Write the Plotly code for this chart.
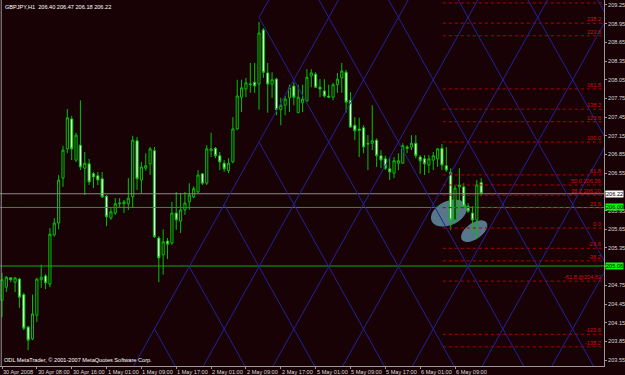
import plotly.graph_objects as go
import numpy as np

# ---------------- data ----------------
opens = [204.51,204.72,204.87,204.80,204.85,204.60,204.08,203.89,204.27,204.84,
         204.90,204.77,205.56,205.75,206.47,206.94,207.42,206.76,207.00,206.63,
         206.70,206.54,206.51,206.46,206.18,205.83,205.91,206.06,206.06,206.06,
         206.17,207.07,206.44,206.63,206.70,206.91,205.51,205.24,205.46,205.43,
         205.91,205.78,205.96,206.09,206.17,206.25,206.54,206.39,206.91,206.95,
         206.83,206.71,206.59,206.73,207.26,207.77,207.90,207.97,208.01,207.98,
         208.85,208.16,207.98,208.06,207.57,207.64,207.76,207.95,207.52,207.68,
         207.71,208.11,208.14,207.93,207.87,207.79,207.77,207.97,208.08,208.17,
         207.72,207.32,207.26,207.28,207.03,207.03,207.08,206.83,206.78,206.62,
         206.55,206.71,206.71,206.97,206.97,207.03,206.81,206.78,206.68,206.76,
         206.78,206.95,206.67,206.57,205.80,206.33,206.33,206.02,205.91,205.80,
         206.40]
highs = [204.95,204.90,204.88,204.88,204.87,204.63,204.10,204.60,204.87,205.08,
         204.93,205.67,205.83,206.52,206.99,207.58,207.47,207.20,207.72,206.89,
         206.78,206.57,206.57,206.57,206.20,205.99,206.15,206.15,206.12,206.47,
         207.15,207.13,206.73,206.87,206.97,206.97,205.54,205.65,205.51,206.09,
         206.25,206.23,206.25,206.39,206.34,206.60,206.55,207.00,207.20,206.97,
         206.89,206.76,206.79,207.45,208.05,208.05,208.08,208.32,208.32,208.98,
         208.88,208.32,208.17,208.08,207.76,207.79,207.97,208.01,207.97,207.97,
         208.22,208.22,208.17,208.06,208.06,207.97,208.00,208.16,208.32,208.21,
         207.85,207.45,207.44,207.32,207.16,207.64,207.11,206.92,206.83,206.81,
         206.81,206.87,207.03,207.00,207.16,207.16,206.84,206.84,206.84,206.89,
         206.95,207.02,206.97,206.63,206.36,206.63,206.39,206.07,206.02,206.44,
         206.47]
lows = [204.24,204.64,204.80,204.64,204.39,204.03,203.71,203.87,204.16,204.71,
        204.69,204.72,205.53,205.65,206.33,206.87,206.76,206.73,206.60,206.20,
        206.36,206.31,206.36,206.15,205.70,205.80,205.88,205.99,205.91,205.96,
        205.99,206.28,206.23,206.59,206.52,205.51,204.80,204.92,205.17,205.40,
        205.64,205.59,205.88,205.96,206.15,206.23,206.36,206.36,206.81,206.79,
        206.60,206.57,206.55,206.71,207.24,207.53,207.77,207.84,207.84,207.57,
        208.08,207.52,207.76,207.48,207.32,207.48,207.53,207.64,207.52,207.53,
        207.69,207.93,207.92,207.77,207.76,207.76,207.72,207.84,207.84,207.52,
        207.28,207.08,206.81,206.87,206.60,206.92,206.65,206.63,206.60,206.44,
        206.47,206.60,206.70,206.87,206.92,206.79,206.54,206.52,206.55,206.60,
        206.65,206.60,206.57,205.64,205.77,205.91,205.99,205.91,205.59,205.51,
        206.18]
closes = [204.84,204.88,204.84,204.87,204.56,204.06,203.87,204.29,204.85,204.88,
          204.79,205.57,205.75,206.44,206.92,207.44,206.94,207.16,206.65,206.71,
          206.41,206.49,206.44,206.17,205.85,205.93,206.06,206.07,206.09,206.15,
          207.08,206.46,206.65,206.67,206.94,205.53,205.19,205.45,205.41,205.91,
          205.80,205.96,206.07,206.20,206.30,206.52,206.39,206.94,206.94,206.83,
          206.73,206.62,206.71,207.26,207.79,207.92,208.00,207.98,207.95,208.80,
          208.17,207.98,208.05,207.57,207.64,207.74,207.92,207.77,207.77,207.74,
          208.09,208.16,207.93,207.90,207.79,207.77,207.97,208.06,208.19,207.69,
          207.29,207.23,207.24,206.97,207.02,207.07,206.83,206.76,206.63,206.57,
          206.75,206.75,206.99,206.95,207.03,206.83,206.75,206.70,206.78,206.83,
          206.94,206.68,206.60,205.80,206.31,206.36,206.02,205.94,205.80,206.36,
          206.22]
bars = list(range(len(opens)))

time_labels = ["30 Apr 2008", "30 Apr 08:00", "30 Apr 16:00", "1 May 01:00",
               "1 May 09:00", "1 May 17:00", "2 May 01:00", "2 May 09:00",
               "2 May 17:00", "5 May 01:00", "5 May 09:00", "5 May 17:00",
               "6 May 01:00", "6 May 09:00"]
label_bars = [0, 8, 16, 24, 32, 40, 48, 56, 64, 72, 80, 88, 96, 104]

price_ticks = [203.55, 203.85, 204.15, 204.45, 204.75, 205.05, 205.35, 205.65,
               205.95, 206.25, 206.55, 206.85, 207.15, 207.45, 207.75, 208.05,
               208.35, 208.65, 208.95, 209.25]
hidden_ticks = [205.05, 206.25]   # covered by the price boxes on the chart

# Fibonacci tool
fib_low, fib_high = 205.67, 207.05
fib_ratios = [2.618, 2.382, 2.236, 1.618, 1.382, 1.236, 1.0, 0.618, 0.5, 0.382,
              0.236, 0.0, -0.236, -0.382, -0.618, -1.236, -1.382]
fib_texts = ["261.8", "238.2", "223.6", "161.8", "138.2", "123.6", "100.0", "61.8",
             "50.0 206.36", "38.2 206.20", "23.6", "0.0", "-23.6", "-38.2",
             "-61.8 @204.82", "-123.6", "-138.2"]
fib_start_bar = 101.2

# Horizontal lines
bid_price = 206.22
green_levels = [206.00, 205.06]
green_texts = ["206.00", "205.06"]

# Gann grid
gann_bar0, gann_price0 = 59, 207.05
gann_period = 16      # bars between parallel lines
gann_slope = 0.125    # price per bar

# Ellipses (center bar, center price)
ellipse_centers = [(102.6, 205.91), (108.4, 205.62)]

title_text = "GBPJPY,H1  206.40 206.47 206.18 206.22"
copyright_text = "ODL MetaTrader, © 2001-2007 MetaQuotes Software Corp."

# ---------------- style ----------------
BG = "#190206"
CANDLE_GREEN = "#00c400"
X_MIN, X_MAX = -0.46, 138.2
Y_MIN, Y_MAX = 203.455, 209.33
PX_PER_BAR = 4.356
PX_PER_PRICE = 62.3
FONT = "Liberation Sans"
FS = 5.6

fig = go.Figure()

# Gann grid lines
gx, gy = [], []
xl, xr = -10, 150
for k in range(-4, 12):
    b0 = gann_bar0 + gann_period * k
    xs = xl if k >= 0 else gann_bar0
    gx += [xs, xr, None]
    gy += [gann_price0 + gann_slope * (xs - b0), gann_price0 + gann_slope * (xr - b0), None]
    xs = gann_bar0 + gann_period * k / 2 if k <= -1 else gann_bar0
    gx += [xs, xr, None]
    gy += [gann_price0 - gann_slope * (xs - b0), gann_price0 - gann_slope * (xr - b0), None]

fig.add_trace(go.Scatter(x=[X_MIN, X_MAX], y=[bid_price, bid_price], mode="lines",
                         line=dict(color="#8a8a8a", width=1), hoverinfo="skip"))
for lv in green_levels:
    fig.add_trace(go.Scatter(x=[X_MIN, X_MAX], y=[lv, lv], mode="lines",
                             line=dict(color="#00b400", width=1), hoverinfo="skip"))

fx, fy = [], []
for r in fib_ratios:
    p = fib_low + r * (fib_high - fib_low)
    fx += [fib_start_bar, X_MAX, None]
    fy += [p, p, None]
fig.add_trace(go.Scatter(x=fx, y=fy, mode="lines",
                         line=dict(color="#b00000", width=1, dash="dot"), hoverinfo="skip"))

fig.add_trace(go.Candlestick(
    x=bars, open=opens, high=highs, low=lows, close=closes,
    increasing=dict(line=dict(color=CANDLE_GREEN, width=1), fillcolor=BG),
    decreasing=dict(line=dict(color=CANDLE_GREEN, width=1), fillcolor="#ffffff"),
    whiskerwidth=0, hoverinfo="skip"))

fig.add_trace(go.Scatter(x=gx, y=gy, mode="lines",
                         line=dict(color="#22229a", width=1), hoverinfo="skip"))

ell_specs = [(19, 12, -25), (15, 8, -35)]  # semi-major px, semi-minor px, angle deg
shapes = []
t = np.linspace(0, 2 * np.pi, 40)
for (cb, cp), (a, b, ang) in zip(ellipse_centers, ell_specs):
    th = np.deg2rad(ang)
    px = a * np.cos(t) * np.cos(th) - b * np.sin(t) * np.sin(th)
    py = a * np.cos(t) * np.sin(th) + b * np.sin(t) * np.cos(th)
    xs = cb + px / PX_PER_BAR
    ys = cp - py / PX_PER_PRICE
    path = "M " + " L ".join(f"{x:.4f},{y:.4f}" for x, y in zip(xs, ys)) + " Z"
    shapes.append(dict(type="path", path=path, xref="x", yref="y",
                       fillcolor="#56788a", line=dict(width=0), layer="below"))
shapes.append(dict(type="line", xref="paper", yref="paper", x0=0.002, x1=0.002, y0=0, y1=1,
                   line=dict(color="#9a9a9a", width=1)))

annotations = []
for b, txt in zip(label_bars, time_labels):
    annotations.append(dict(x=b, y=0, xref="x", yref="paper", text=txt, showarrow=False,
                            xanchor="left", yanchor="top", yshift=-1, xshift=-1,
                            font=dict(family=FONT, size=FS, color="#d8d8d8")))
for r, txt in zip(fib_ratios, fib_texts):
    p = fib_low + r * (fib_high - fib_low)
    if p > Y_MAX - 0.1:
        continue  # label would sit above the plotting area (not visible in the original)
    annotations.append(dict(x=1, y=p, xref="paper", yref="y", text=txt, showarrow=False,
                            xanchor="right", yanchor="bottom", xshift=-1, yshift=-1,
                            font=dict(family=FONT, size=FS, color="#d01010")))
annotations.append(dict(x=1, y=bid_price, xref="paper", yref="y", text="206.22", showarrow=False,
                        xanchor="left", yanchor="middle", xshift=1, bgcolor="#ffffff",
                        borderpad=0, font=dict(family=FONT, size=FS, color="#000000")))
for lv, txt in zip(green_levels, green_texts):
    annotations.append(dict(x=1, y=lv, xref="paper", yref="y", text=txt, showarrow=False,
                            xanchor="left", yanchor="middle", xshift=1, bgcolor="#00ff00",
                            borderpad=0, font=dict(family=FONT, size=FS, color="#000000")))
annotations.append(dict(x=0, y=1, xref="paper", yref="paper", text=title_text, showarrow=False,
                        xanchor="left", yanchor="top", xshift=3, yshift=-2,
                        font=dict(family=FONT, size=FS, color="#ffffff")))
annotations.append(dict(x=0, y=0, xref="paper", yref="paper", text=copyright_text, showarrow=False,
                        xanchor="left", yanchor="bottom", xshift=2, yshift=1,
                        font=dict(family=FONT, size=FS, color="#ffffff")))

fig.update_layout(
    width=625, height=375,
    margin=dict(l=0, r=21, t=0, b=9),
    paper_bgcolor=BG, plot_bgcolor=BG,
    showlegend=False,
    shapes=shapes, annotations=annotations,
    xaxis=dict(range=[X_MIN, X_MAX], rangeslider=dict(visible=False), showgrid=False,
               zeroline=False, showline=True, linecolor="#9a9a9a", linewidth=1,
               tickvals=label_bars, ticktext=[""] * len(label_bars), ticks="outside",
               ticklen=2, tickcolor="#9a9a9a", showticklabels=False),
    yaxis=dict(range=[Y_MIN, Y_MAX], side="right", showgrid=False, zeroline=False,
               showline=True, linecolor="#9a9a9a", linewidth=1,
               tickvals=price_ticks,
               ticktext=["" if v in hidden_ticks else f"{v:.2f}" for v in price_ticks],
               ticks="outside", ticklen=2, tickcolor="#9a9a9a",
               tickfont=dict(family=FONT, size=FS, color="#d8d8d8")),
)

fig.write_html("out.html")
